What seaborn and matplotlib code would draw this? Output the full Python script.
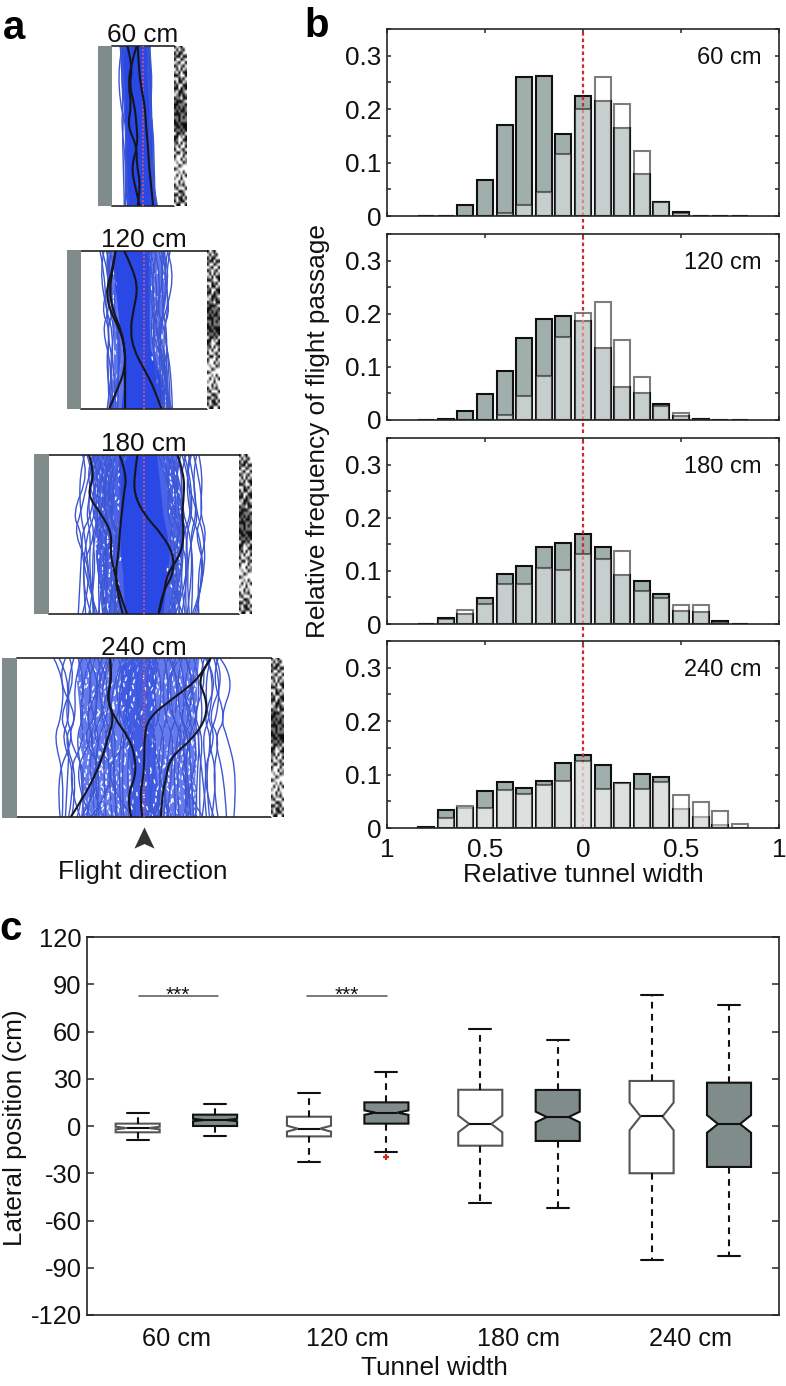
import numpy as np
import pandas as pd
import matplotlib
matplotlib.use("Agg")
import matplotlib.pyplot as plt
from matplotlib.path import Path
from matplotlib.patches import PathPatch, Rectangle
from matplotlib.colors import to_hex
from matplotlib.transforms import blended_transform_factory
import seaborn as sns

# ---------- data: panel b ----------
BIN_CENTERS = [-0.8,-0.7,-0.6,-0.5,-0.4,-0.3,-0.2,-0.1,0.0,0.1,0.2,0.3,0.4,0.5,0.6,0.7,0.8]
PANEL_LABELS = ["60 cm","120 cm","180 cm","240 cm"]
DARK_60  = [0,0,.020,.067,.170,.261,.262,.153,.224,.215,.164,.079,.026,.007,0,0,0]
LIGHT_60 = [0,0,0,0,.005,.020,.044,.116,.200,.261,.210,.121,.026,.005,0,0,0]
DARK_120 = [0,.002,.0175,.048,.093,.154,.190,.195,.187,.136,.062,.050,.031,.007,.001,0,0]
LIGHT_120= [0,0,0,0,.010,.046,.083,.156,.201,.2225,.150,.080,.026,.0125,.001,0,0]
DARK_180 = [0,.011,.019,.049,.094,.109,.144,.153,.170,.144,.0925,.081,.057,.024,.0225,.006,0]
LIGHT_180= [0,.010,.027,.037,.076,.076,.106,.102,.131,.1225,.137,.0625,.048,.036,.036,.004,0]
DARK_240 = [.001,.034,.037,.069,.086,.074,.088,.122,.136,.117,.084,.102,.095,.036,.020,.006,0]
LIGHT_240= [0,.019,.041,.037,.072,.064,.081,.0875,.125,.0725,.084,.0725,.087,.062,.049,.032,.008]

# ---------- data: panel c ----------
TUNNELS = ["60 cm","120 cm","180 cm","240 cm"]
FREE_LO  = [-8.9,-23.0,-48.7,-85.0]
FREE_Q1  = [-4.0,-6.6,-12.5,-30.0]
FREE_MED = [-1.3,-1.7,1.3,6.1]
FREE_Q3  = [1.5,5.9,23.0,28.6]
FREE_HI  = [8.3,21.2,61.4,83.0]
GREY_LO  = [-6.1,-16.7,-52.3,-82.4]
GREY_Q1  = [0.0,1.5,-9.5,-26.0]
GREY_MED = [3.8,8.5,5.7,1.3]
GREY_Q3  = [7.2,15.0,22.9,27.5]
GREY_HI  = [13.8,34.0,54.7,76.9]
FLIGHTS_FREE = 110
FLIGHTS_GREY = 225
OUTLIER_120 = -19.7
YTICKS_C = [-120,-90,-60,-30,0,30,60,90,120]

# ---------- data: panel a (lateral position in cm at nine stations, top to bottom) ----------
STATIONS = [1,.875,.75,.625,.5,.375,.25,.125,0]
LEFT_60  = [-23,-22,-21,-19,-18,-18,-18,-18,-16]
RIGHT_60 = [7,7.5,8,8.5,9,9.5,10,11,13.5]
LINES_60 = [
 [-22,-19,-23,-17,-20,-16,-19,-15,-18],[-20,-24,-18,-22,-16,-20,-17,-19,-14],
 [6,9,5,8,6,10,7,11,14],[4,7,8,6,10,8,11,9,12],[-17,-21,-16,-19,-21,-17,-16,-20,-17],
 [7,4,8,7,9,7,10,12,10],
]
BLACK_60 = [
 [-15,-10,-13,-8,-6,-5,-11,-8,-3],[-6,-12,-14,-11,-15,-6,-6,-2,-5],[-5,-4,-2,2,3,5,6,8,10],
]
OUTER_L_120 = [-36,-36,-34,-31,-30,-29,-30,-32,-33]
OUTER_R_120 = [20,20,20,18,18,18,22,23,24]
LEFT_120 = [-29,-29,-27,-25,-23,-20,-20,-20,-22]
RIGHT_120= [5,5,5,5,5,6,13,19,19]
LINES_120 = [
 [-42,-38,-43,-36,-33,-30,-35,-30,-33],[-40,-34,-38,-33,-40,-35,-30,-36,-32],
 [-38,-42,-33,-36,-30,-44,-30,-28,-35],[-36,-30,-39,-41,-32,-31,-37,-33,-30],
 [-34,-37,-30,-28,-36,-33,-28,-31,-27],[-31,-35,-27,-33,-28,-36,-33,-26,-29],
 [22,29,26,22,14,20,18,24,26],[18,25,28,17,22,15,21,25,24],[23,18,22,25,18,23,26,20,27],
 [14,20,17,12,20,16,24,22,25],[10,15,8,14,10,18,22,26,23],[20,16,24,19,15,21,17,22,20],
 [6,11,8,13,7,12,20,16,22],[8,5,12,7,14,9,15,23,18],[12,8,15,9,6,15,12,18,26],
 [16,22,14,20,12,10,25,20,17],[3,8,6,10,9,6,10,14,16],[-26,-32,-24,-30,-25,-29,-24,-28,-25],
 [25,21,28,23,19,16,19,27,24],[-33,-26,-35,-29,-24,-27,-22,-24,-31],
]
BLACK_120 = [
 [-27,-30,-36,-33,-23,-18,-18,-25,-33],[-19,-10,-6,-10,-13,-10,0,10,16.5],[-27,-30,-33,-30,-22,-18,-18,-18,-18],
]
OUTER_L_180 = [-50,-50,-48,-47,-46,-46,-44,-42,-40]
OUTER_R_180 = [32,32,34,36,36,36,34,34,30]
LEFT_180 = [-24,-24,-23,-23,-23,-22,-20,-19,-18]
RIGHT_180= [12,14,16,18,22,24,22,20,18]
LINES_180 = [
 [-56,-61,-68,-60,-56,-64,-52,-55,-47],[-58,-52,-64,-68,-58,-50,-60,-52,-62],
 [-46,-52,-44,-60,-66,-55,-48,-62,-58],[-52,-46,-57,-49,-60,-68,-56,-50,-44],
 [-43,-50,-46,-53,-45,-59,-62,-54,-50],[-49,-42,-52,-46,-54,-47,-58,-47,-55],
 [-38,-45,-41,-50,-38,-52,-44,-56,-42],[-44,-37,-48,-40,-47,-41,-49,-38,-48],
 [-34,-41,-36,-44,-35,-42,-37,-46,-39],[-40,-31,-42,-35,-43,-33,-45,-36,-34],
 [-29,-36,-30,-38,-31,-39,-30,-41,-32],[-33,-28,-35,-29,-37,-28,-34,-30,-37],
 [-27,-31,-24,-33,-26,-32,-25,-35,-28],[-16,-24,-30,-21,-27,-19,-29,-24,-26],
 [22,28,20,31,24,33,28,36,29],[27,21,32,26,35,29,37,30,25],
 [31,37,29,35,41,33,39,33,40],[35,30,40,33,38,44,36,42,33],
 [40,34,42,37,44,38,47,40,45],[38,44,36,46,40,48,42,38,36],
 [42,47,40,50,44,52,46,49,41],[45,40,48,43,53,47,56,45,50],
 [47,52,45,56,48,54,60,50,46],[50,46,54,50,57,51,58,55,48],
 [52,56,49,53,60,56,50,57,52],[36,42,50,45,37,42,34,46,39],
 [18,24,30,22,28,37,31,25,34],[25,33,26,38,31,25,32,28,23],
 [-20,-28,-19,-32,-24,-36,-27,-21,-33],[-36,-26,-39,-45,-34,-27,-41,-32,-24],
 [30,25,35,40,33,30,44,36,30],[14,20,26,30,36,27,20,30,37],
 [-48,-56,-50,-41,-49,-57,-45,-40,-52],[-31,-38,-47,-36,-30,-44,-39,-29,-43],
 [44,38,46,52,46,36,40,52,43],[-54,-47,-40,-55,-50,-43,-52,-59,-46],
]
BLACK_180 = [
 [-52,-46,-54,-40,-30,-32,-27,-23,-16],[-23,-16,-19,-21,-23,-24,-27,-25,-20],
 [-6,-9,-9,0,17,28,28,17,14],[32,38,38,36,38,35,22,19,14],
]
OUTER_L_240 = [-62,-64,-62,-60,-62,-58,-60,-58,-60]
OUTER_R_240 = [52,50,50,50,48,50,48,50,50]
LEFT_240 = [-20,-22,-22,-20,-18,-14,-12,-14,-14]
RIGHT_240= [12,12,10,10,10,10,12,14,16]
LINES_240 = [
 [-85,-75,-70,-78,-85,-82,-75,-82,-77],[-80,-70,-82,-74,-66,-78,-83,-72,-79],
 [-74,-82,-68,-62,-76,-70,-62,-76,-68],[-70,-64,-76,-80,-70,-60,-72,-80,-74],
 [-66,-72,-60,-70,-78,-72,-64,-58,-71],[-62,-56,-68,-61,-55,-66,-74,-66,-60],
 [-58,-66,-54,-64,-72,-58,-52,-67,-63],[-55,-48,-62,-54,-48,-62,-68,-56,-50],
 [-50,-58,-47,-57,-64,-50,-58,-48,-57],[-46,-53,-60,-48,-42,-55,-47,-60,-54],
 [-43,-38,-50,-56,-46,-40,-54,-44,-38],[-39,-46,-37,-44,-52,-47,-40,-51,-45],
 [-36,-30,-42,-35,-43,-33,-47,-36,-42],[-32,-39,-29,-40,-34,-44,-33,-41,-30],
 [-28,-34,-41,-30,-37,-27,-38,-31,-36],[-24,-18,-31,-25,-32,-38,-26,-34,-27],
 [-20,-27,-22,-33,-26,-20,-30,-22,-25],[-15,-22,-14,-24,-18,-28,-21,-29,-19],
 [-10,-16,-25,-13,-22,-15,-24,-12,-21],[-6,-13,-7,-18,-10,-20,-11,-17,-8],
 [-2,-8,-15,-5,-13,-4,-16,-7,-14],[3,-3,6,-6,4,-8,5,-3,7],
 [7,2,11,4,12,3,9,14,4],[11,17,8,15,6,14,18,9,13],
 [15,9,18,12,20,10,16,21,11],[19,24,14,22,16,25,13,20,26],
 [23,17,27,20,28,18,26,16,22],[26,32,22,30,24,33,21,29,19],
 [30,24,34,27,36,26,31,24,33],[33,39,29,37,31,40,28,35,30],
 [36,31,41,34,43,33,38,30,40],[40,46,37,43,35,46,42,36,44],
 [44,38,47,41,50,39,47,43,37],[47,53,44,50,42,52,45,50,47],
 [50,45,55,48,56,46,52,44,53],[54,60,51,46,53,58,50,57,49],
 [57,52,61,56,50,62,56,52,59],[60,66,57,62,55,50,60,64,55],
 [63,58,67,60,68,57,54,62,66],[66,72,62,69,60,64,70,58,64],
 [72,86,82,72,79,72,88,82,85],[68,76,70,60,72,78,64,74,70],
 [70,64,74,78,66,62,76,68,78],[58,70,64,56,64,70,58,70,62],
 [-52,-42,-33,-46,-58,-44,-36,-48,-59],[-34,-44,-52,-38,-28,-40,-52,-26,-46],
 [38,50,42,32,48,40,30,46,56],[24,30,40,48,36,30,40,54,42],
 [-16,-28,-36,-22,-12,-30,-42,-24,-10],[-44,-32,-24,-40,-50,-34,-22,-38,-50],
 [4,14,2,-10,8,20,2,-12,10],[34,20,12,26,40,24,12,30,24],
]
BLACK_240 = [
 [-32,-30,-35,-28,-14,-8,-8,-16,-12],[-32,-30,-35,-28,-34,-39,-47,-57,-69],
 [63,53,28,4,0.5,0.5,-0.5,-4,-1.5],[63,50,59,59,47,25,21,17,16],
]
# wall pattern: 0 black, 1 grey, 2 white
WALL_PATTERN = [
 "021022","202102","020022","100200","022012","210220","012102","202021","120200","001220",
 "220102","020021","102200","002010","120012","210101","011200","100012","001110","010101",
 "101001","000110","110101","010111","001000","100100","011010","200102","002120","012200",
 "102021","120220","022102","200210","022202","122021","212201","220122","012222","221202",
 "202120","122022","220212","021102","102220","220012","002102","120020","021002","200220",
]
PANEL_A_WIDTHS = [60,120,180,240]
LINE_STATIONS = [0,1,3,4,6,8]

# ---------- style / layout ----------
W, H = 786, 1386
sns.set_theme(style="ticks", rc={"axes.linewidth":1.2,"xtick.direction":"in","ytick.direction":"in",
    "xtick.major.size":3,"ytick.major.size":3,"xtick.major.width":1.1,"ytick.major.width":1.1,
    "xtick.minor.size":3,"ytick.minor.size":3,"ytick.minor.width":1.1,
    "xtick.major.pad":7,"ytick.major.pad":4})
plt.rcParams["font.family"] = ["Liberation Sans","DejaVu Sans"]
FS = 18.8
fig = plt.figure(figsize=(W/100,H/100),dpi=100)

def px_axes(l,t,r,b):
    return fig.add_axes([l/W,1-b/H,(r-l)/W,(b-t)/H])
def px_text(x,y,s,**kw):
    kw.setdefault("ha","center"); kw.setdefault("va","center")
    kw.setdefault("fontsize",FS); kw.setdefault("color","#111111")
    return fig.text(x/W,1-y/H,s,**kw)
def smooth(ax,xs,ys,color,lw,zorder,ls="-"):
    pts=list(zip(xs,ys))
    verts=[pts[0]]; codes=[Path.MOVETO]
    for i in range(1,len(pts)-1):
        mid=((pts[i][0]+pts[i+1][0])/2,(pts[i][1]+pts[i+1][1])/2) if i<len(pts)-2 else pts[-1]
        verts+=[pts[i],mid]; codes+=[Path.CURVE3,Path.CURVE3]
    ax.add_patch(PathPatch(Path(verts,codes),fill=False,edgecolor=color,lw=lw,zorder=zorder,ls=ls))

# ---------- panel a ----------
A_BOXES = [(112,46,173.7,205.5),(81,250.5,207,408.5),(48.7,454.7,239,613.7),(16.7,658.3,271,817)]
A_FILLS = [
 [(LEFT_60,RIGHT_60,1.0)],
 [(OUTER_L_120,OUTER_R_120,.75),(LEFT_120,RIGHT_120,1.0)],
 [(OUTER_L_180,OUTER_R_180,.85),(LEFT_180,RIGHT_180,1.0)],
 [(OUTER_L_240,OUTER_R_240,.72),(LEFT_240,RIGHT_240,.6)],
]
A_LINES=[LINES_60,LINES_120,LINES_180,LINES_240]
A_BLACK=[BLACK_60,BLACK_120,BLACK_180,BLACK_240]
A_GAP_DASH=[None,(3,14),(2.5,10),(3,6)]
BLUE_FILL="#2a48e6"; BLUE_LINE="#3d56d2"
wall=np.array([[int(c) for c in row] for row in WALL_PATTERN])
wall_img=np.choose(wall,[0.05,0.5,1.0])
sub_st=[STATIONS[k] for k in LINE_STATIONS]
for i,(l,t,r,b) in enumerate(A_BOXES):
    ax=px_axes(l,t,r,b)
    half=PANEL_A_WIDTHS[i]/2
    ax.set_xlim(-half,half); ax.set_ylim(0,1)
    ax.set_xticks([]); ax.set_yticks([])
    for s in ("left","right"): ax.spines[s].set_visible(False)
    for s in ("top","bottom"): ax.spines[s].set_color("#222222")
    for lft,rgt,a in A_FILLS[i]:
        ax.fill_betweenx(STATIONS,lft,rgt,color=BLUE_FILL,alpha=a,lw=0,zorder=1)
    # the white flecks left between dense paths follow the paths themselves
    if A_GAP_DASH[i] is not None:
        for row,ln in enumerate(A_LINES[i]):
            smooth(ax,ln,STATIONS,"white",1.0,1.5,ls=(row*3.7,A_GAP_DASH[i]))
    for ln in A_LINES[i]:
        smooth(ax,[ln[k] for k in LINE_STATIONS],sub_st,BLUE_LINE,1.0,2)
    for ln in A_BLACK[i]:
        smooth(ax,ln,STATIONS,"#15151f",1.5,4)
    ax.axvline(0,color="#d9566e",lw=1.3,ls=(0,(1,1.2)),zorder=3)
    grey=px_axes(l-14.3,t-0.5,l,b+0.5); grey.set_axis_off()
    grey.add_patch(Rectangle((0,0),1,1,transform=grey.transAxes,color="#7f8c8a",lw=0))
    tex=px_axes(r,t-0.5,r+13,b+0.5); tex.set_axis_off()
    tex.imshow(wall_img,cmap="gray",vmin=0,vmax=1,aspect="auto",interpolation="bilinear")
    tr=blended_transform_factory(ax.transData,ax.transAxes)
    ax.annotate(f"{PANEL_A_WIDTHS[i]} cm",xy=(0,1),xycoords=tr,xytext=(0,-1),
                textcoords="offset points",ha="center",va="bottom",fontsize=FS,color="#111111")
    if i==3:
        ax.plot([0],[-0.135],marker=[(-1,-1),(0,1.1),(1,-1),(0,-.55)],ms=16,color="#333333",
                clip_on=False,transform=tr,ls="none",mew=0)
px_text(143,872,"Flight direction")

# ---------- panel b ----------
B_BOXES=[(387,29,779,216),(387,234,779,420),(387,438,779,624),(387,641,779,828)]
DARKS=[DARK_60,DARK_120,DARK_180,DARK_240]
LIGHTS=[LIGHT_60,LIGHT_120,LIGHT_180,LIGHT_240]
LIGHT_ALPHA=[.42,.42,.42,.64]
for i,(l,t,r,b) in enumerate(B_BOXES):
    ax=px_axes(l,t,r,b)
    sns.barplot(x=BIN_CENTERS,y=DARKS[i],native_scale=True,width=.82,color="#a0aeac",saturation=1,
                edgecolor="#111111",linewidth=1.5,errorbar=None,ax=ax,zorder=2)
    n_dark=len(ax.patches)
    ax.axvline(0,ymin=(-.07 if i<3 else 0),ymax=1,color="#cc2b2b",lw=1.6,ls=(0,(1.6,1.3)),clip_on=False,zorder=3)
    sns.barplot(x=BIN_CENTERS,y=LIGHTS[i],native_scale=True,width=.82,color="white",saturation=1,
                edgecolor="#111111",linewidth=1.5,errorbar=None,ax=ax,zorder=4)
    for p in ax.patches[n_dark:]:
        p.set_alpha(None)
        p.set_facecolor((1,1,1,LIGHT_ALPHA[i]))
        p.set_edgecolor((.07,.07,.07,.55))
    ax.set_xlim(-1,1); ax.set_ylim(0,.35)
    ax.set_xticks([-1,-.5,0,.5,1])
    ax.set_xticklabels(["1","0.5","0","0.5","1"] if i==3 else [""]*5,fontsize=FS,color="#111111")
    ax.set_yticks([0,.1,.2,.3]); ax.set_yticklabels(["0","0.1","0.2","0.3"],fontsize=FS,color="#111111")
    ax.set_yticks([.05,.15,.25,.35],minor=True)
    ax.tick_params(top=True,right=True,bottom=True,left=True,which="both")
    ax.set_xlabel(""); ax.set_ylabel("")
    for s in ax.spines.values(): s.set_zorder(6)
    ax.text(.955,.845,PANEL_LABELS[i],transform=ax.transAxes,ha="right",va="center",fontsize=17,color="#111111")
px_text(318,431,"Relative frequency of flight passage",rotation=90)
px_text(583,875,"Relative tunnel width")

# ---------- panel c ----------
ax=px_axes(87.3,937,778.7,1315)
rows=[]
for j,t in enumerate(TUNNELS):
    for grp,stats,n in (("free",(FREE_LO,FREE_Q1,FREE_MED,FREE_Q3,FREE_HI),FLIGHTS_FREE),
                        ("grey",(GREY_LO,GREY_Q1,GREY_MED,GREY_Q3,GREY_HI),FLIGHTS_GREY)):
        a=int(.32*n); m=n-2-2*a
        vals=np.repeat([s[j] for s in stats],[1,a,m,a,1])
        rows.append(pd.DataFrame({"tunnel":t,"group":grp,"pos":vals}))
df=pd.concat(rows,ignore_index=True)
sns.boxplot(data=df,x="tunnel",y="pos",hue="group",hue_order=["free","grey"],order=TUNNELS,
            palette={"free":"white","grey":"#7f8c8a"},saturation=1,notch=True,whis=(0,100),width=.904,gap=.431,
            linecolor="#111111",linewidth=1.5,legend=False,showfliers=False,ax=ax,
            whiskerprops={"linestyle":(0,(3.2,2.6))})
for p in ax.patches:
    if to_hex(p.get_facecolor())=="#ffffff":
        p.set_edgecolor("#555555")
ax.plot([1.226],[OUTLIER_120],marker="+",ms=5,mew=1.6,color="#d22222",ls="none",zorder=5)
ax.set_xlim(-.52,3.516); ax.set_ylim(-120,120)
ax.set_yticks(YTICKS_C); ax.set_yticklabels([str(v) for v in YTICKS_C],fontsize=FS-.4,color="#111111")
ax.tick_params(axis="y",left=True,right=True,length=5,pad=4)
ax.tick_params(axis="x",length=0,pad=9,labelsize=FS-.6,labelcolor="#111111")
ax.set_xlabel(""); ax.set_ylabel("")
for x0,x1 in ((-.22,.241),(.765,1.227)):
    ax.plot([x0,x1],[82.4,82.4],color="#555555",lw=1.1)
    ax.text((x0+x1)/2,83,"***",ha="center",va="center",fontsize=15,color="#111111")
px_text(434,1368,"Tunnel width")
px_text(15,1128,"Lateral position (cm)",rotation=90)

# panel letters
px_text(14,28,"a",fontsize=29,fontweight="bold",color="black")
px_text(317,26,"b",fontsize=29,fontweight="bold",color="black")
px_text(11,929,"c",fontsize=29,fontweight="bold",color="black")

fig.savefig("out.png",dpi=100,facecolor="white")
